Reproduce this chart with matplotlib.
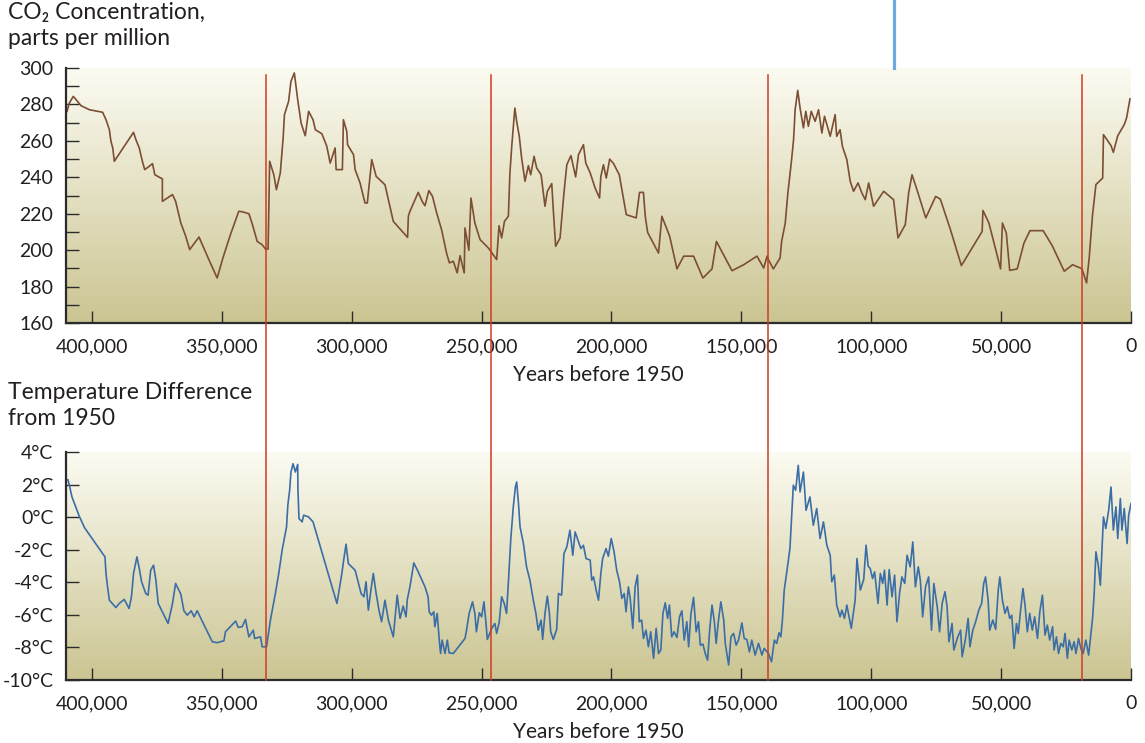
"""Vostok ice core: CO2 concentration and temperature over the last 410,000 years."""

import matplotlib

matplotlib.use("Agg")
import matplotlib.pyplot as plt
import matplotlib.transforms as mtransforms
import numpy as np
from matplotlib.lines import Line2D
from matplotlib.ticker import FixedLocator, FuncFormatter, MultipleLocator

FIGURE_SIZE = (11.45, 7.43)
DPI = 100
FONT = ["Lato", "DejaVu Sans"]
TEXT_COLOR = "#231f20"
AXIS_COLOR = "#2b2b2b"
CO2_COLOR = "#7c4e33"
TEMP_COLOR = "#3b6ea6"
RED_LINE_COLOR = "#cf3b22"
BLUE_MARK_COLOR = "#6ea8dc"
GRADIENT_TOP = (252, 251, 242)
GRADIENT_BOTTOM = (203, 197, 146)
X_MAX = 410000
TICK_FONT_SIZE = 14
TITLE_FONT_SIZE = 16.5

# CO2, parts per million (years before 1950)
co2_age = [
    409600, 408700, 407200, 406100, 404200, 401000, 395900, 394600, 393300, 392700,
    392000, 391400, 384000, 383100, 381800, 380600, 379700, 378000, 376700, 375800,
    372900, 372900, 369000, 367800, 365800, 363900, 362400, 358800, 355000, 351800,
    349600, 346700, 343500, 342200, 339600, 338400, 336400, 334500, 333200, 332200,
    331600, 330000, 329000, 327500, 326400, 325900, 324300, 323400, 322100, 320800,
    319500, 317900, 316600, 314900, 314000, 311500, 309600, 308300, 306400, 306000,
    303600, 303200, 301900, 301600, 299300, 298700, 296800, 294900, 294000, 292300,
    290600, 287200, 284000, 278500, 278200,
    277600, 274400, 272700, 271800, 270300, 268900, 267300, 265400, 263500, 262400,
    260900, 259400, 258300, 256700, 256400, 254900, 254100, 252600, 250600, 247400,
    244200, 243300, 242300, 241200, 239700, 239100, 238400, 237200, 236500, 235500,
    234600, 233300, 232000, 231100, 229800, 228800, 227100, 225600, 224700, 223000,
    222400, 221500, 219800, 218300, 217200, 215600, 213800, 212700, 210800, 209900,
    208200, 206300, 204600, 204100, 203100, 202000, 200700, 199200, 197000, 196000,
    194300, 190500, 189200, 187700, 187000, 186100, 181900, 180600, 177600, 174800,
    172200, 168400, 164800, 161300, 159600, 153600, 149100, 144000, 141400, 140100,
    139600, 137700, 135100, 134500, 133100, 132100, 130800, 129900, 129300, 128300,
    127400, 126100, 125200, 124200, 123100, 121600, 120300, 119000, 118000, 115800,
    113900, 113300, 112000, 111100, 109400, 108100, 106800, 105100, 103600, 102300,
    101000, 99100, 95200, 91400, 89700, 86900, 85600, 84300, 82400, 79000,
    75200, 73400, 69500, 65300, 57300, 57000, 54700, 50200, 49500, 48000,
    46700, 43800, 41200, 38900, 33800, 30200, 25700, 22500, 18900, 17100,
    16100, 14800, 13500, 10900, 10600, 7700, 6800, 5100, 2600, 1700,
    400,
]
co2_ppm = [
    276.2, 280.8, 284.4, 282.6, 279.3, 277.1, 275.7, 271.6, 266.1, 259.7,
    256.1, 248.8, 264.7, 260.7, 256.1, 248.8, 244.2, 246.0, 247.5, 241.4,
    239.1, 226.8, 230.5, 226.8, 214.9, 207.6, 200.3, 207.2, 194.8, 184.7,
    195.7, 208.5, 221.3, 221.1, 220.0, 214.9, 204.8, 203.0, 200.6, 200.6,
    248.8, 241.4, 233.2, 242.4, 261.6, 274.4, 281.7, 292.7, 297.3, 282.6,
    269.8, 262.8, 276.2, 271.6, 266.1, 263.9, 257.0, 247.8, 256.1, 244.2,
    244.2, 271.6, 265.2, 257.9, 252.4, 244.2, 236.9, 225.9, 225.9, 249.7,
    240.5, 235.9, 215.8, 207.0, 218.6,
    221.3, 231.7, 226.3, 224.4, 232.7, 229.5, 220.4, 211.2, 198.4, 193.0,
    193.9, 187.5, 197.0, 187.5, 212.2, 199.9, 228.6, 214.9, 205.8, 201.2,
    194.8, 213.4, 206.7, 215.8, 218.6, 242.4, 257.0, 278.0, 270.7, 262.5,
    250.6, 237.8, 246.4, 241.4, 251.5, 245.1, 241.4, 224.1, 232.3, 236.5,
    222.2, 202.1, 206.7, 231.4, 246.9, 251.9, 240.2, 252.4, 257.9, 247.8,
    242.4, 234.1, 228.6, 240.5, 246.9, 239.6, 250.0, 247.5, 241.4, 233.2,
    219.5, 217.7, 231.7, 231.7, 218.6, 209.8, 198.4, 218.6, 207.6, 189.7,
    196.7, 196.7, 184.7, 189.7, 204.8, 188.7, 192.0, 196.7, 190.2, 196.7,
    194.8, 189.7, 195.7, 204.8, 214.9, 231.4, 247.8, 260.7, 277.1, 287.7,
    278.0, 267.1, 276.2, 268.0, 276.2, 270.7, 277.1, 264.3, 273.5, 262.5,
    274.4, 262.5, 266.1, 257.0, 249.7, 237.8, 232.3, 236.9, 231.4, 227.7,
    236.9, 224.1, 232.3, 227.7, 206.7, 214.0, 231.4, 241.4, 233.2, 217.7,
    229.5, 228.0, 211.2, 191.5, 210.3, 221.8, 214.9, 189.7, 214.9, 209.4,
    188.9, 189.7, 203.9, 210.7, 210.7, 202.1, 188.4, 192.0, 189.8, 182.0,
    195.7, 219.5, 236.0, 239.6, 263.4, 257.4, 253.7, 262.8, 268.9, 272.6,
    283.0,
]

# temperature difference from 1950, degrees C
temp_age = [
    409300, 408700, 407700, 404900, 402900, 395000, 394600, 394000, 393300, 390800,
    389500, 387600, 385700, 384800, 384000, 382700, 381800, 380900, 379300, 378400,
    377400, 376300, 375400, 374500, 370700, 369000, 367800, 365800, 364600, 363300,
    361800, 360700, 359500, 353700, 351800, 349200, 348600, 344700, 343700, 342200,
    340900, 339600, 337900, 337400, 335100, 334500, 332800, 331300, 329400, 328100,
    326800, 325100, 324600, 323900, 323400, 322600, 321700, 320800, 320700, 320300,
    319100, 318500, 316600, 314900, 305700, 303800, 303100, 302200, 301300, 298700,
    297700, 296400, 295300, 294500, 293600, 292700, 291700, 290600, 289400, 288500,
    287200, 285900, 284000, 282500, 281400, 280200, 279100, 278600,
    277600, 276100, 274400, 271800, 270600, 270200, 269300, 268400, 268000, 267100,
    266300, 265800, 265200, 264100, 263200, 262500, 260900, 256400, 255800, 254800,
    253500, 252600, 252000, 250900, 250000, 249100, 248300, 247800, 246100, 244900,
    244200, 243200, 242300, 241300, 240400, 239500, 238800, 237800, 237000, 236500,
    235800, 235200, 233900, 232700, 231400, 230100, 229100, 228200, 227100, 226500,
    225600, 224700, 223900, 223400, 222400, 221100, 220400, 219200, 218300, 217200,
    216000, 214900, 214000, 212700, 211800, 210800, 209800, 208200, 207600, 206900,
    205900, 205000, 204100, 203400, 202100, 201200, 200100, 199000, 198000, 196900,
    196000, 195100, 194400, 193500, 192800, 191800, 190900, 190000, 189300, 188400,
    187700, 186700, 185800, 184900, 183800, 182800, 181900, 181000, 180200, 179300,
    178400, 177700, 176800, 175900, 174800, 173800, 172900, 172000, 171000, 170300,
    169400, 168400, 167400, 166500, 165800, 164800, 163900, 163000, 162200, 161300,
    160400, 159700, 158800, 157900, 156800, 156200, 154900, 154000, 153000, 152000,
    151100, 149800, 148900, 147900, 146900, 146000, 144700, 143400, 142100, 141200,
    139600, 138400, 137300, 136400, 135500, 134800, 134200, 133500, 132600, 131300,
    130700, 130000, 129100, 128100, 127400, 126100, 125100, 123600, 122300, 121000,
    119700, 118400, 117100, 115800, 115200, 114200, 113300, 112000, 111300, 110300,
    109400, 107700, 106200, 105500, 104200, 102900, 102000, 101200, 100400, 99500,
    98700, 97400, 96500, 95600, 94900, 93900, 93100, 92000, 91000, 90100,
    89100, 88200, 87100, 86200, 85000, 84000, 83000, 81900, 81100, 80200,
    79100, 77900, 76800, 75900, 74600, 73700, 72700, 71600, 70800, 70100,
    68900, 68200, 66900, 65600, 65000, 63700, 62700, 62000, 60900, 59800,
    58600, 57500, 56700, 56000, 55000, 54400, 53200, 52100, 51100, 50500,
    49500, 48500, 47600, 46700, 45900, 45000, 44100, 43400, 42500, 41600,
    40800, 39900, 39000, 38000, 37100, 36000, 35100, 34100, 33100, 32200,
    31300, 30200, 29600, 28700, 27900, 27000, 26100, 25400, 24500, 23800,
    22800, 21900, 21200, 20200, 19300, 18400, 17400, 16300, 15400, 14800,
    14200, 13500, 12600, 11800, 11200, 10600, 9700, 8600, 7700, 6800,
    5800, 5100, 4100, 3500, 2600, 1500, 900, 0,
]
temp_dev = [
    2.30, 1.96, 1.24, 0.06, -0.64, -2.44, -3.46, -4.28, -5.10, -5.55,
    -5.30, -5.05, -5.61, -4.89, -3.46, -2.44, -3.15, -3.97, -4.69, -4.79,
    -3.26, -2.95, -3.87, -5.30, -6.53, -5.30, -4.07, -4.73, -5.75, -6.02,
    -5.75, -6.12, -5.75, -7.65, -7.71, -7.59, -7.04, -6.38, -6.77, -6.73,
    -6.28, -7.35, -6.94, -7.45, -7.35, -7.96, -7.96, -6.32, -4.69, -3.46,
    -2.03, -0.60, 0.73, 1.65, 2.77, 3.28, 2.77, 3.24, 1.65, -0.09,
    -0.29, 0.12, 0.01, -0.29, -5.30, -3.46, -2.64, -1.66, -2.85, -3.26,
    -3.87, -4.69, -4.89, -3.97, -5.71, -4.58, -3.46, -4.69, -5.81, -6.42,
    -5.10, -6.32, -7.35, -4.79, -6.22, -5.46, -6.12, -5.05,
    -4.28, -2.81, -3.36, -4.28, -4.89, -5.81, -6.02, -5.81, -6.73, -5.91,
    -7.55, -8.37, -7.55, -8.37, -7.55, -8.33, -8.37, -7.45, -6.94, -5.91,
    -5.20, -5.91, -7.04, -5.87, -6.12, -5.20, -6.53, -7.51, -6.83, -6.53,
    -7.14, -6.42, -4.89, -5.30, -5.91, -3.46, -1.42, 0.63, 1.85, 2.16,
    0.83, -0.60, -1.62, -3.05, -3.87, -5.10, -5.91, -6.94, -6.32, -7.51,
    -5.91, -4.85, -5.91, -7.04, -7.51, -6.89, -4.69, -4.79, -2.23, -1.83,
    -0.80, -2.34, -0.91, -1.52, -1.93, -1.73, -2.54, -2.64, -3.87, -3.67,
    -4.48, -5.10, -3.46, -2.54, -1.93, -2.40, -1.31, -2.13, -3.26, -3.97,
    -4.99, -4.69, -5.81, -4.28, -4.99, -6.83, -4.28, -3.56, -6.42, -6.32,
    -7.45, -6.94, -7.96, -7.04, -8.67, -6.83, -8.37, -8.16, -5.91, -5.26,
    -6.22, -5.40, -7.35, -7.04, -7.39, -6.12, -5.75, -7.55, -6.42, -7.96,
    -5.91, -4.93, -7.04, -6.42, -7.86, -7.80, -8.37, -8.78, -6.94, -5.40,
    -6.42, -7.75, -6.32, -5.20, -6.32, -7.75, -9.08, -7.35, -7.14, -7.86,
    -7.55, -6.49, -7.45, -7.51, -8.27, -7.55, -8.47, -7.75, -8.47, -8.06,
    -8.37, -8.88, -7.55, -7.75, -7.10, -7.35, -6.32, -4.48, -3.46, -1.93,
    -0.09, 1.96, 1.65, 3.18, 1.55, 2.77, 0.42, 1.24, -0.50, 0.53,
    -1.31, -0.29, -1.72, -2.34, -3.97, -3.56, -5.40, -6.12, -5.71, -6.22,
    -5.40, -6.83, -5.10, -2.54, -4.48, -3.83, -1.72, -3.01, -3.15, -3.77,
    -3.36, -5.30, -3.46, -4.07, -3.26, -5.40, -3.22, -4.89, -3.56, -6.42,
    -4.69, -3.67, -4.07, -2.34, -3.05, -1.52, -4.28, -3.05, -3.87, -6.12,
    -4.28, -3.67, -6.94, -4.07, -5.50, -7.04, -5.30, -4.58, -5.50, -7.65,
    -6.53, -8.16, -7.45, -6.94, -8.57, -7.45, -6.22, -7.96, -6.94, -6.42,
    -5.71, -5.30, -4.07, -3.67, -5.10, -6.94, -6.32, -6.89, -4.48, -3.67,
    -5.10, -5.91, -5.50, -6.22, -6.02, -8.06, -6.53, -7.14, -5.71, -4.38,
    -5.40, -7.04, -5.91, -6.94, -6.12, -7.45, -5.81, -4.79, -7.24, -6.63,
    -7.55, -6.73, -8.16, -7.35, -8.37, -7.75, -7.96, -7.14, -8.67, -7.55,
    -8.16, -7.65, -8.37, -7.45, -8.06, -8.37, -7.55, -8.47, -7.14, -6.22,
    -4.79, -2.13, -2.95, -4.18, -2.03, 0.01, -0.70, 0.42, 1.85, -0.80,
    0.63, -1.31, 1.14, -0.80, 0.53, -1.62, 0.12, 0.83,
]

# glacial terminations marked in red, and the odd blue marker above the top panel
red_line_ages = [333000, 246200, 139600, 18700]
blue_mark_age = 91200

co2_ticks = list(range(160, 301, 20))
temp_ticks = list(range(-10, 5, 2))
year_ticks = list(range(0, 400001, 50000))


def _gradient(ax, ylim):
    top = np.array(GRADIENT_TOP) / 255
    bottom = np.array(GRADIENT_BOTTOM) / 255
    t = np.linspace(0, 1, 256)[:, None]
    colors = top * (1 - t) + bottom * t
    ax.imshow(
        colors[:, None, :],
        extent=(X_MAX, 0, ylim[0], ylim[1]),
        aspect="auto",
        origin="upper",
        zorder=0,
        interpolation="bilinear",
    )


def _format_axes(ax, ylim):
    ax.set_xlim(X_MAX, 0)
    ax.set_ylim(*ylim)
    for side in ("top", "right"):
        ax.spines[side].set_visible(False)
    for side in ("left", "bottom"):
        ax.spines[side].set_color(AXIS_COLOR)
        ax.spines[side].set_linewidth(1.6)
        ax.spines[side].set_zorder(5)
    ax.xaxis.set_major_locator(FixedLocator(year_ticks))
    ax.xaxis.set_major_formatter(FuncFormatter(lambda v, _: f"{int(v):,}"))
    ax.tick_params(
        axis="both", which="both", direction="in", length=9, width=1.0,
        color=AXIS_COLOR, labelcolor=TEXT_COLOR, labelsize=TICK_FONT_SIZE,
    )
    ax.tick_params(axis="y", pad=9)
    ax.tick_params(axis="x", pad=11)
    ax.set_xlabel("Years before 1950", fontsize=15, family=FONT,
                  color=TEXT_COLOR, labelpad=7)


def draw_chart():
    fig = plt.figure(figsize=FIGURE_SIZE, dpi=DPI)
    left, width = 66 / 1145, (1131 - 66) / 1145
    ax_co2 = fig.add_axes([left, 1 - 323 / 743, width, 255 / 743])
    ax_temp = fig.add_axes([left, 1 - 680 / 743, width, 228 / 743])

    _gradient(ax_co2, (160, 300))
    ax_co2.plot(co2_age, co2_ppm, color=CO2_COLOR, lw=1.2, zorder=3)
    _format_axes(ax_co2, (160, 300))
    ax_co2.yaxis.set_major_locator(FixedLocator(co2_ticks))
    ax_co2.yaxis.set_minor_locator(MultipleLocator(10))
    ax_co2.yaxis.set_major_formatter(FuncFormatter(lambda v, _: f"{int(v)}"))

    _gradient(ax_temp, (-10, 4))
    ax_temp.plot(temp_age, temp_dev, color=TEMP_COLOR, lw=1.2, zorder=3)
    _format_axes(ax_temp, (-10, 4))
    ax_temp.yaxis.set_major_locator(FixedLocator(temp_ticks))
    ax_temp.yaxis.set_major_formatter(FuncFormatter(lambda v, _: f"{int(v)}°C"))

    for ax in (ax_co2, ax_temp):
        for label in ax.get_xticklabels() + ax.get_yticklabels():
            label.set_family(FONT)

    # vertical lines that run through both panels
    trans = mtransforms.blended_transform_factory(ax_temp.transData, fig.transFigure)
    for age in red_line_ages:
        fig.add_artist(Line2D([age, age], [1 - 75 / 743, 1 - 680 / 743],
                              transform=trans, color=RED_LINE_COLOR, lw=1.1,
                              zorder=4))
    fig.add_artist(Line2D([blue_mark_age, blue_mark_age], [1.0, 1 - 68 / 743],
                          transform=trans, color=BLUE_MARK_COLOR, lw=2.3))

    fig.text(8 / 1145, 1 - 2 / 743, "CO₂ Concentration,\nparts per million",
             ha="left", va="top", fontsize=TITLE_FONT_SIZE, family=FONT,
             color=TEXT_COLOR, linespacing=1.3)
    fig.text(8 / 1145, 1 - 382 / 743, "Temperature Difference\nfrom 1950",
             ha="left", va="top", fontsize=TITLE_FONT_SIZE, family=FONT,
             color=TEXT_COLOR, linespacing=1.3)
    return fig


if __name__ == "__main__":
    figure = draw_chart()
    figure.savefig("out.png", dpi=DPI)
